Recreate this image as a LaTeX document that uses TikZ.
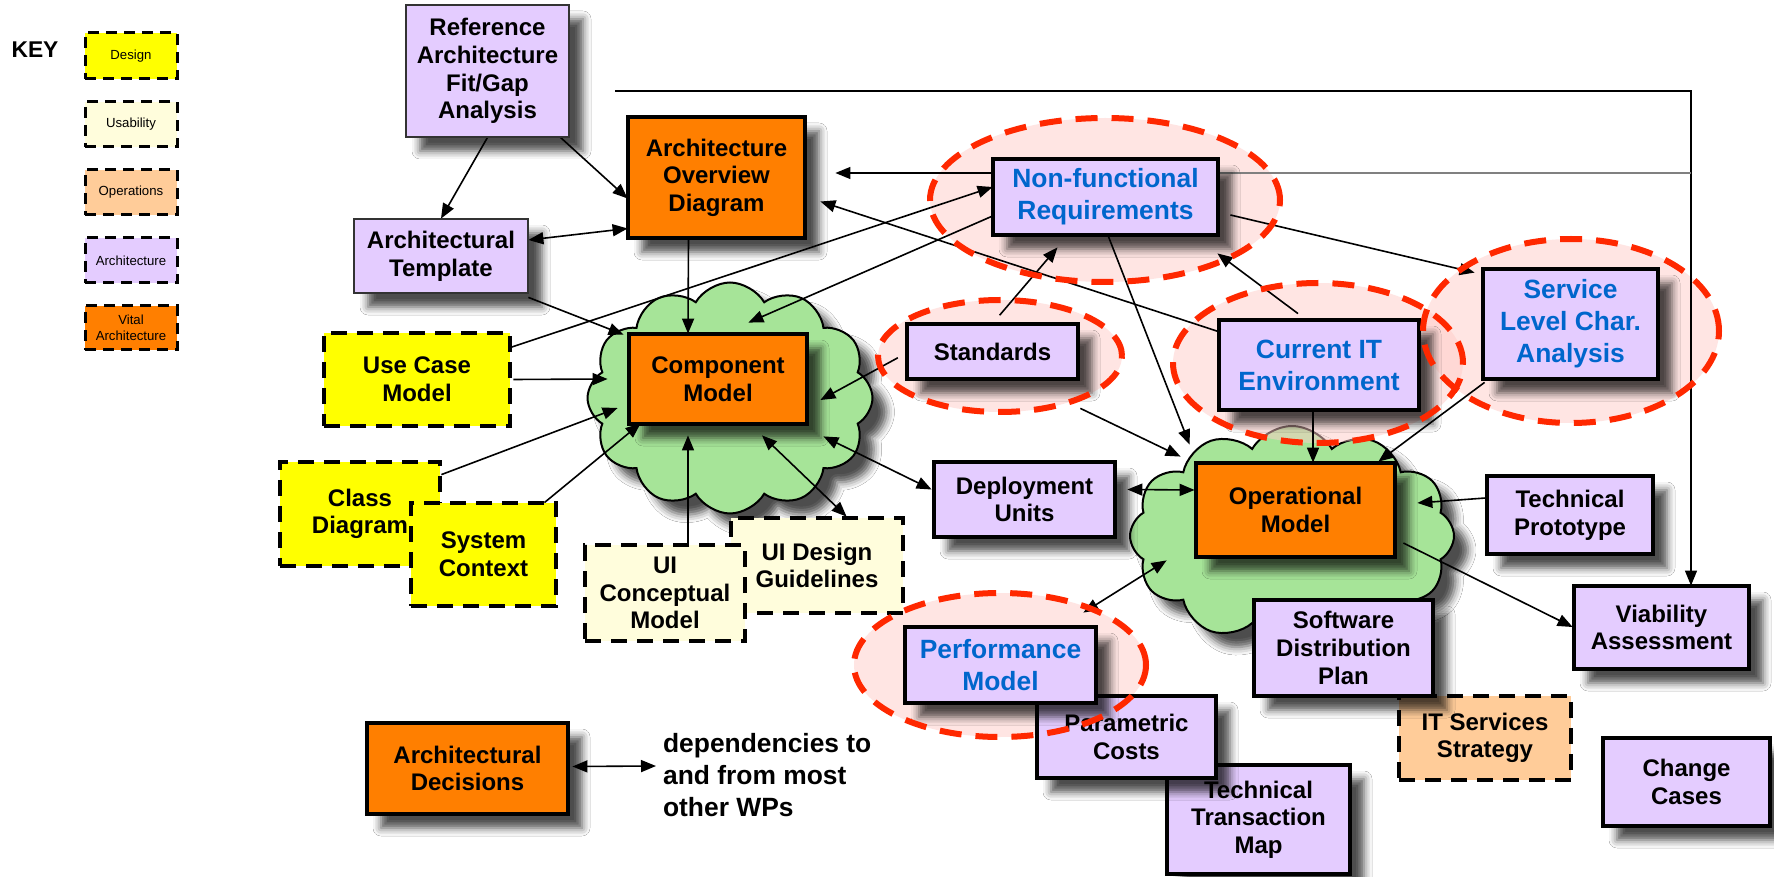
\documentclass[tikz,border=0pt]{standalone}
\usepackage{fontspec}
\setmainfont{Liberation Sans}
\usetikzlibrary{arrows.meta,calc,shapes.geometric,shapes.symbols,shadows.blur}

\definecolor{wpPurple}{RGB}{228,204,255}
\definecolor{wpOrange}{RGB}{255,127,0}
\definecolor{wpYellow}{RGB}{255,255,0}
\definecolor{wpCream}{RGB}{255,253,220}
\definecolor{wpPeach}{RGB}{255,204,153}
\definecolor{wpGreen}{RGB}{166,228,152}
\definecolor{wpBlue}{RGB}{0,102,204}
\definecolor{wpRed}{RGB}{255,40,0}
\definecolor{wpPink}{RGB}{255,205,200}

\newcommand\wpfont{\fontsize{12pt}{13.8pt}\selectfont\bfseries}
\newcommand\wpbluefont{\fontsize{13.2pt}{16pt}\selectfont\bfseries}
\newcommand\keyfont{\fontsize{6.6pt}{7.9pt}\selectfont}
\newcommand\depfont{\fontsize{13.2pt}{16pt}\selectfont\bfseries}

% highlighted work products: one pass for the fill, one for the dashed ring
\newcommand\halos[1]{%
  \path[#1] (1105,200) ellipse [x radius=87.5pt, y radius=41pt];
  \path[#1] (1000,356) ellipse [x radius=61pt, y radius=28pt];
  \path[#1] (1318,363) ellipse [x radius=72.5pt, y radius=40pt];
  \path[#1] (1571,331) ellipse [x radius=74pt, y radius=46pt];
  \path[#1] (1000,665) ellipse [x radius=73pt, y radius=36pt];
}

% all work products; placed once invisibly (for routing) and once for real
\newcommand\wpnodes{%
\node[thinarch, wpat={406}{5}{569}{137}] (ref) {Reference\\Architecture\\Fit/Gap\\Analysis};
\node[vitalbox, wpat={628}{117}{805}{238}] (aod) {Architecture\\Overview\\Diagram};
\node[thinarch, wpat={354}{219}{528}{293}] (tmpl) {Architectural\\Template};
\node[archbox, bluetext, wpat={993}{159}{1218}{235}] (nfr) {Non-functional\\Requirements};
\node[archbox, wpat={907}{324}{1078}{379}] (std) {Standards};
\node[archbox, bluetext, wpat={1219}{320}{1419}{410}] (cur) {Current IT\\Environment};
\node[archbox, bluetext, wpat={1483}{269}{1658}{379}] (slca) {Service\\Level Char.\\Analysis};
\node[archbox, wpat={1487}{476}{1653}{554}] (tp) {Technical\\Prototype};
\node[archbox, wpat={1574}{586}{1749}{669}] (via) {Viability\\Assessment};
\node[archbox, wpat={1603}{738}{1770}{826}] (chg) {Change\\Cases};
\node[opsbox, wpat={1399}{696}{1571}{780}] (its) {IT Services\\Strategy};
\node[archbox, wpat={1254}{600}{1433}{696}] (sdp) {Software\\Distribution\\Plan};
\node[vitalbox, wpat={1196}{463}{1395}{557}] (op) {Operational\\Model};
\node[archbox, wpat={934}{462}{1115}{537}] (dep) {Deployment\\Units};
\node[archbox, wpat={1167}{765}{1350}{874}] (ttm) {Technical\\Transaction\\Map};
\node[archbox, wpat={1037}{696}{1216}{778}] (param) {Parametric\\Costs};
\node[archbox, bluetext, wpat={905}{627}{1096}{703}] (perf) {Performance\\Model};
\node[vitalbox, wpat={629}{334}{807}{424}] (comp) {Component\\Model};
\node[designbox, wpat={324}{333}{510}{426}] (usecase) {Use Case\\Model};
\node[designbox, wpat={280}{462}{440}{566}] (classd) {Class\\Diagram};
\node[designbox, wpat={411}{503}{556}{606}] (sysctx) {System\\Context};
\node[usabox, wpat={731}{518}{903}{613}] (uidg) {UI Design\\Guidelines};
\node[usabox, wpat={585}{545}{745}{641}] (uicm) {UI\\Conceptual\\Model};
\node[vitalbox, wpat={367}{723}{568}{814}] (archdec) {Architectural\\Decisions};
\node[anchor=west, align=left, font=\depfont] (deps) at (656,775) {dependencies to\\and from most\\other WPs};
}

\tikzset{
  wpat/.style n args={4}{minimum width={(#3-#1)*0.5pt}, minimum height={(#4-#2)*0.5pt},
                         at={({(#1+#3)/2},{(#2+#4)/2})}},
  wpshadow/.style={blur shadow={shadow xshift=7pt, shadow yshift=-7pt,
                   shadow blur radius=4pt, shadow opacity=70}},
  wp/.style={draw=black, line width=1.8pt, inner sep=0pt, align=center, font=\wpfont},
  archbox/.style={wp, fill=wpPurple, wpshadow},
  thinarch/.style={archbox, line width=1pt, draw=black!80},
  vitalbox/.style={wp, fill=wpOrange, wpshadow},
  dashbox/.style={wp, line width=2pt, dash pattern=on 8pt off 5pt},
  designbox/.style={dashbox, fill=wpYellow},
  usabox/.style={dashbox, fill=wpCream},
  opsbox/.style={dashbox, fill=wpPeach},
  keybox/.style={draw=black, line width=1.5pt, dash pattern=on 5.5pt off 3.5pt,
                 inner sep=0pt, align=center, font=\keyfont},
  bluetext/.style={font=\wpbluefont, text=wpBlue},
  puff/.style={cloud, cloud puffs=12, cloud puff arc=120, cloud ignores aspect,
               draw=black, line width=1pt, fill=wpGreen, wpshadow},
  halofill/.style={fill=wpPink, fill opacity=0.5},
  haloline/.style={draw=wpRed, line width=3pt, dash pattern=on 11pt off 7pt},
  tip/.style={-{Triangle[length=7.5pt,width=6pt]}},
  link/.style={line width=0.8pt, tip},
  link2/.style={line width=0.8pt, {Triangle[length=7.5pt,width=6pt]}-{Triangle[length=7.5pt,width=6pt]}},
  feed/.style={line width=0.65pt},
  % invisible copies used only to route the connectors
  ghost/.style={
    wp/.style={inner sep=0pt, align=center, font=\wpfont},
    archbox/.style={wp}, thinarch/.style={wp}, vitalbox/.style={wp},
    dashbox/.style={wp}, designbox/.style={wp}, usabox/.style={wp}, opsbox/.style={wp},
    bluetext/.style={font=\wpbluefont},
    every node/.style={text opacity=0}},
}

\begin{document}
\begin{tikzpicture}[x=0.5pt,y=-0.5pt]
\useasboundingbox (0,0) rectangle (1774,877);
\fill[white] (0,0) rectangle (1774,877);

% ---- clouds around the two core models ----
\node[puff, minimum width=142.5pt, minimum height=115.5pt] (ccloud) at (730,398) {};
\node[puff, minimum width=162pt, minimum height=110pt] (ocloud) at (1292,536) {};

% ---- highlight fills ----
\halos{halofill}

% ---- key ----
\node[font=\fontsize{11.4pt}{13pt}\selectfont\bfseries] (key) at (35,50) {KEY};
\node[keybox, fill=wpYellow, wpat={85}{33}{177}{79}] (kdesign) {Design};
\node[keybox, fill=wpCream, wpat={85}{102}{177}{147}] (kusab) {Usability};
\node[keybox, fill=wpPeach, wpat={85}{170}{177}{215}] (kops) {Operations};
\node[keybox, fill=wpPurple, wpat={85}{238}{177}{283}] (karch) {Architecture};
\node[keybox, fill=wpOrange, wpat={85}{306}{177}{350}] (kvital) {Vital\\Architecture};

% ---- routing copies of the work products ----
\begin{scope}[ghost]
\wpnodes
\end{scope}

% ---- free ends of the feedback lines ----
\coordinate (topstart) at (615,91);
\coordinate (corner) at (1691,91);
\coordinate (vmid) at (1691,173);

% ---- dependencies ----
\draw[link] (ref.south) -- (tmpl.north);
\draw[link] (ref) -- ($(aod.west)+(0,21)$);
\draw[link2] ($(tmpl.east)+(0,-16)$) -- ($(aod.west)+(0,51)$);
\draw[link] ($(tmpl.south east)+(0,4)$) -- ($(comp.north west)+(-5,1)$);
\draw[link] ($(aod.south)+(-28,0)$) -- ($(comp.north)+(-30,0)$);
\draw[link] ($(usecase.east)+(0,-32)$) -- ($(nfr.west)+(0,-10)$);
\draw[link] ($(nfr.west)+(0,19)$) -- ($(comp.north east)+(-59,-11)$);
\draw[link] ($(cur.north west)+(0,12)$) -- ($(aod.east)+(15,24)$);
\draw[link, shorten <=5.5pt] (std.north) -- ($(nfr.south)+(-48,12)$);
\draw[link, shorten <=5pt] ($(std.west)+(0,1.5)$) -- ($(comp.east)+(13,21)$);
\draw[link] ($(nfr.south)+(2.5,0)$) -- ($(op.north west)+(-6,-18)$);
\draw[link] ($(std.south east)+(2,29)$) -- ($(op.north west)+(-15,-6)$);
\draw[link] ($(nfr.east)+(12,18)$) -- ($(slca.north west)+(-8,4)$);
\draw[link] ($(cur.north)+(-21,-6)$) -- ($(nfr.south east)+(-1,18)$);
\draw[link] ($(cur.south)+(-6,0)$) -- ($(op.north)+(17.5,0)$);
\draw[link] ($(slca.south west)+(2,3)$) -- ($(op.north east)+(-17,-1)$);
\draw[link] ($(tp.west)+(-1,-17)$) -- ($(op.east)+(22,-7)$);
\draw[link] ($(op.east)+(8,33)$) -- ($(via.west)+(-1,-0.5)$);
\draw[link2] ($(dep.east)+(12,-10)$) -- ($(op.west)+(-1,-20)$);
\draw[link2] ($(comp.south east)+(16,12)$) -- ($(dep.west)+(-2,-10)$);
\draw[link2] ($(comp.south)+(44,11)$) -- ($(uidg.north west)+(116,-1)$);
\draw[link] ($(uicm.north)+(23,0)$) -- ($(comp.south)+(-30,11)$);
\draw[link] ($(sysctx.north east)+(-12,0)$) -- ($(comp.south west)+(12,-1)$);
\draw[link] ($(classd.north east)+(1,13)$) -- ($(comp.west)+(-11,29)$);
\draw[link] ($(usecase.east)+(3,0)$) -- ($(comp.west)+(-21,0)$);
\draw[link2] ($(perf.north east)+(-13,-14)$) -- ($(op.south west)+(-29,3)$);
\draw[link2] ($(archdec.east)+(4,-2)$) -- (deps.west |- 0,766);
% feedback to the overview and to the viability assessment
\draw[feed, tip] (topstart) -- (corner) -- (corner |- via.north);
\draw[feed, gray] (vmid) -- (nfr.east |- vmid);
\draw[feed, tip] (nfr.west |- vmid) -- ($(aod.east)+(30,-4.5)$);

% ---- work products ----
\wpnodes

% ---- dashed rings ----
\halos{haloline}

\end{tikzpicture}
\end{document}
